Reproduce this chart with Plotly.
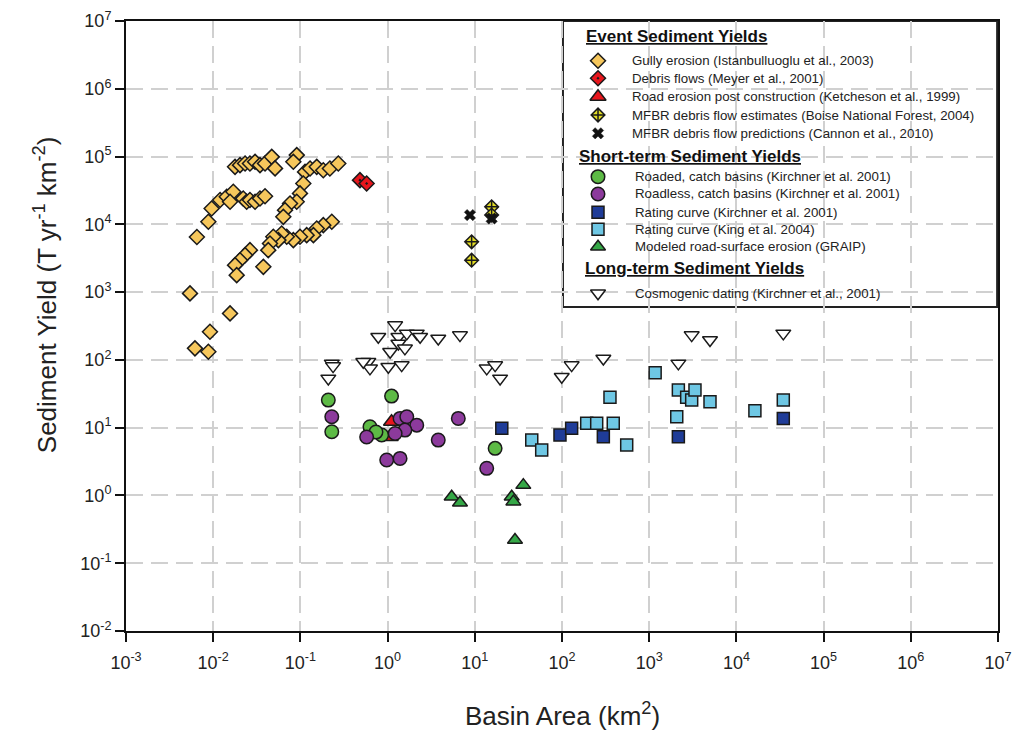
import plotly.graph_objects as go

# ---------------- data (basin area km2, sediment yield T/yr/km2) ----------------
gully_x = [0.0065, 0.0088, 0.0096, 0.012, 0.0143, 0.0170, 0.0156, 0.0221, 0.0242, 0.0264, 0.0302, 0.0344, 0.0393,
           0.0178, 0.0203, 0.0232, 0.0264, 0.0302, 0.0344, 0.0393, 0.0469, 0.0512, 0.0908, 0.083,
           0.113, 0.129, 0.154, 0.183, 0.218, 0.272, 0.108, 0.0989, 0.0907, 0.076, 0.0666, 0.0637,
           0.229, 0.183, 0.154, 0.141, 0.118, 0.0989, 0.083, 0.0697, 0.061, 0.0559, 0.0489, 0.0448,
           0.0428, 0.0376, 0.0264, 0.0232, 0.0203, 0.0178, 0.0186, 0.00542, 0.0156, 0.00918, 0.00618, 0.0088]
gully_y = [6500, 10900, 17100, 22800, 25500, 30200, 21500, 24100, 21500, 22800, 21500, 24100, 26000,
           70500, 74700, 79100, 79100, 83600, 74700, 79100, 99000, 66900, 105000, 83600,
           59400, 66700, 70500, 62900, 66700, 79100, 40100, 28600, 21500, 20300, 16200, 12900,
           10900, 9730, 8690, 6930, 6930, 6550, 5850, 6550, 7310, 5850, 6550, 5220,
           4160, 2360, 4160, 3510, 2960, 2500, 1780, 957, 485, 260, 148, 132]

debris_x = [0.482, 0.575]
debris_y = [44900, 40100]

road_post_x = [1.11, 1.07]
road_post_y = [12.2, 7.3]

mfbr_est_x = [15.6, 15.6, 9.2, 9.2]
mfbr_est_y = [18100, 13700, 5520, 2960]

mfbr_pred_x = [8.8, 15.6]
mfbr_pred_y = [13700, 12200]

roaded_x = [0.209, 0.229, 1.11, 0.628, 0.855, 0.736, 17.1]
roaded_y = [25.5, 8.7, 29.2, 10.3, 7.8, 8.6, 4.95]

roadless_x = [0.229, 0.575, 1.39, 1.66, 2.16, 1.58, 1.22, 0.977, 1.39, 3.81, 6.47, 13.7]
roadless_y = [14.5, 7.3, 13.7, 14.5, 10.9, 9.2, 8.2, 3.33, 3.52, 6.56, 13.7, 2.51]

rating_kir_x = [20.4, 94.8, 129, 298, 2160, 34500]
rating_kir_y = [9.77, 7.78, 9.77, 7.35, 7.35, 13.7]

rating_king_x = [45, 58.5, 192, 250, 387, 355, 552, 1170, 2160, 2690, 3070, 3350, 4980, 2070, 16300, 34500]
rating_king_y = [6.56, 4.68, 11.6, 11.6, 11.6, 28, 5.54, 64.5, 35.9, 28, 25.5, 35.9, 24.1, 14.5, 17.8, 25.5]

graip_x = [5.43, 6.76, 26.5, 27.7, 36.0, 28.9]
graip_y = [0.957, 0.78, 0.957, 0.81, 1.42, 0.22]

cosmo_x = [0.229, 0.209, 0.237, 0.601, 0.628, 1.02, 1.45, 1.22, 0.782, 1.33, 1.66, 2.16, 2.36, 3.81, 6.76,
           1.33, 1.07, 1.58, 0.526, 13.7, 17.1, 19.5, 99.3, 129, 298, 3070, 4980, 2160, 34500]
cosmo_y = [88.8, 53.3, 81, 93.8, 75, 79.1, 83.8, 326, 219, 219, 246, 246, 219, 207, 232,
           175, 132, 148, 93.8, 75, 83.8, 53.3, 56.4, 83.8, 105, 232, 196, 88.8, 246]

x_ticks = [10.0 ** k for k in range(-3, 8)]
x_ticktext = ["10<sup>%d</sup>" % k for k in range(-3, 8)]
y_ticks = [10.0 ** k for k in range(-2, 8)]
y_ticktext = ["10<sup>%d</sup>" % k for k in range(-2, 8)]

group_titles = ["Event Sediment Yields", "Short-term Sediment Yields", "Long-term Sediment Yields"]

OUT = "#1a1a1a"

# series definitions: (x, y, label, symbol, fill, size, group index, outline width)
series = [
    (gully_x, gully_y, "Gully erosion (Istanbulluoglu et al., 2003)", "diamond", "#F6C75C", 11.5, 0, 1.5),
    (debris_x, debris_y, "Debris flows (Meyer et al., 2001)", "diamond-dot", "#E8161C", 11.5, 0, 1.5),
    (road_post_x, road_post_y, "Road erosion post construction (Ketcheson et al., 1999)", "triangle-up",
     "#E8161C", 14, 0, 1.5),
    (mfbr_est_x, mfbr_est_y, "MFBR debris flow estimates (Boise National Forest, 2004)", "diamond-cross",
     "#E2DC24", 10.5, 0, 1.5),
    (mfbr_pred_x, mfbr_pred_y, "MFBR debris flow predictions (Cannon et al., 2010)", "x", "#111111", 10, 0, 0.5),
    (roaded_x, roaded_y, "Roaded, catch basins (Kirchner et al. 2001)", "circle", "#5DBA45", 13.5, 1, 1.5),
    (roadless_x, roadless_y, "Roadless, catch basins (Kirchner et al. 2001)", "circle", "#8C3A9C", 13.5, 1, 1.5),
    (rating_kir_x, rating_kir_y, "Rating curve (Kirchner et al. 2001)", "square", "#1F3C98", 12, 1, 1.5),
    (rating_king_x, rating_king_y, "Rating curve (King et al. 2004)", "square", "#6EC7E4", 12, 1, 1.5),
    (graip_x, graip_y, "Modeled road-surface erosion (GRAIP)", "triangle-up", "#35A847", 13, 1, 1.5),
    (cosmo_x, cosmo_y, "Cosmogenic dating (Kirchner et al., 2001)", "triangle-down", "#FFFFFF", 13, 2, 1.5),
]

fig = go.Figure()
for sx, sy, label, sym, col, size, g, lw in series:
    fig.add_trace(go.Scatter(
        x=sx, y=sy, mode="markers", name=label, showlegend=False,
        marker=dict(symbol=sym, color=col, size=size, line=dict(color=OUT, width=lw))))

# ---------------- custom legend box (paper coordinates) ----------------
LEG_X0, LEG_X1, LEG_Y0, LEG_Y1 = 0.5011, 0.999, 0.531, 1.0
title_pos = [(0.5252, 0.9743), (0.5172, 0.7775), (0.5241, 0.5946)]
row_y = [0.9349, 0.9061, 0.8759, 0.8459, 0.8159, 0.7448, 0.7164, 0.6864, 0.6585, 0.6300, 0.5536]
KEY_X = 0.5413
TEXT_X = [0.578, 0.5815, 0.5815]

annotations = []
for (tx, ty), t in zip(title_pos, group_titles):
    annotations.append(dict(text="<b><u>%s</u></b>" % t, xref="paper", yref="paper", x=tx, y=ty,
                            xanchor="left", yanchor="middle", showarrow=False,
                            font=dict(size=17, color="#111")))
for (sx, sy, label, sym, col, size, g, lw), ry in zip(series, row_y):
    fig.add_trace(go.Scatter(
        x=[KEY_X], y=[ry], xaxis="x2", yaxis="y2", mode="markers", showlegend=False, hoverinfo="skip",
        marker=dict(symbol=sym, color=col, size=size, line=dict(color=OUT, width=lw))))
    annotations.append(dict(text=label, xref="paper", yref="paper", x=TEXT_X[g], y=ry,
                            xanchor="left", yanchor="middle", showarrow=False,
                            font=dict(size=13.3, color="#222")))

annotations.append(dict(
    text="Sediment Yield (T yr<sup>-1</sup> km<sup>-2</sup>)", textangle=-90,
    xref="paper", yref="paper", x=-0.093, y=0.552, xanchor="center", yanchor="middle",
    showarrow=False, font=dict(size=26, color="#222")))
annotations.append(dict(
    text="Basin Area (km<sup>2</sup>)",
    xref="paper", yref="paper", x=0.5011, y=-0.137, xanchor="center", yanchor="middle",
    showarrow=False, font=dict(size=26, color="#222")))

axis_common = dict(
    type="log", showline=True, linecolor="#111", linewidth=2, mirror=True,
    ticks="outside", ticklen=9, tickwidth=1.5, tickcolor="#111",
    showgrid=True, gridcolor="#d0d0d0", gridwidth=1.5, griddash="17px,8px",
    zeroline=False, tickfont=dict(size=18, color="#222"), automargin=False,
)

fig.update_layout(
    width=1019, height=732,
    margin=dict(l=126, r=21, t=21, b=101, autoexpand=False),
    paper_bgcolor="white", plot_bgcolor="white",
    font=dict(family="Liberation Sans, Arial, sans-serif", color="#222"),
    showlegend=False,
    xaxis=dict(range=[-3, 7], tickvals=x_ticks, ticktext=x_ticktext, ticklabelstandoff=5, **axis_common),
    yaxis=dict(range=[-2, 7], tickvals=y_ticks, ticktext=y_ticktext, **axis_common),
    xaxis2=dict(overlaying="x", range=[0, 1], visible=False, fixedrange=True),
    yaxis2=dict(overlaying="y", range=[0, 1], visible=False, fixedrange=True),
    shapes=[dict(type="rect", xref="paper", yref="paper", x0=LEG_X0, x1=LEG_X1, y0=LEG_Y0, y1=LEG_Y1,
                 fillcolor="white", line=dict(color="#222", width=2), layer="between")],
    annotations=annotations,
)

fig.write_html("out.html")
